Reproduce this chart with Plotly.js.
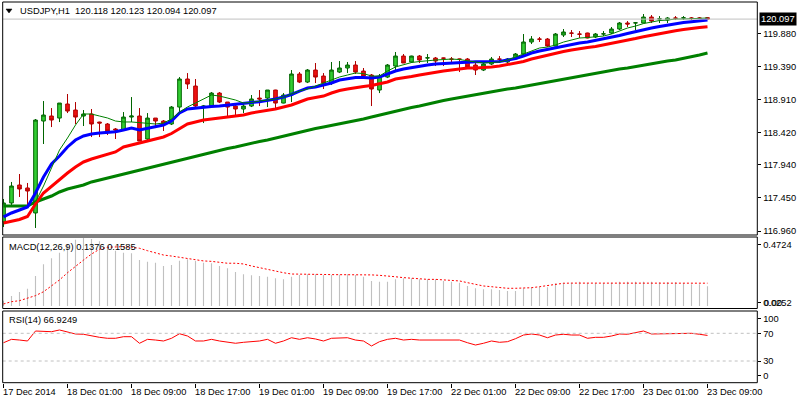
<!DOCTYPE html>
<html>
<head>
<meta charset="utf-8">
<script src="https://cdn.plot.ly/plotly-3.0.1.min.js"></script>
<style>html,body{margin:0;padding:0;background:#fff;}#chart{width:800px;height:400px;}</style>
</head>
<body>
<div id="chart"></div>
<script>
// ---- DATA ----
const symbol = 'USDJPY,H1';
const tickLabels = ['17 Dec 2014','18 Dec 01:00','18 Dec 09:00','18 Dec 17:00','19 Dec 01:00','19 Dec 09:00','19 Dec 17:00','22 Dec 01:00','22 Dec 09:00','22 Dec 17:00','23 Dec 01:00','23 Dec 09:00'];
const tickBars = [0,8,16,24,32,40,48,56,64,72,80,88];

const open = [117.094,117.375,117.641,117.597,117.227,118.588,118.662,118.632,118.840,118.751,
118.662,118.692,118.573,118.544,118.470,118.455,118.647,118.662,118.322,118.632,
118.588,118.544,118.795,119.210,119.106,118.795,118.810,119.002,118.869,118.810,
118.766,118.810,118.928,118.928,119.047,118.854,118.973,119.284,119.165,119.343,
119.254,119.150,119.313,119.373,119.417,119.328,119.269,119.047,119.239,119.402,
119.550,119.462,119.550,119.521,119.521,119.521,119.506,119.506,119.506,119.417,
119.343,119.432,119.506,119.462,119.506,119.580,119.758,119.802,119.802,119.698,
119.861,119.891,119.876,119.891,119.832,119.876,119.891,119.950,120.039,120.039,
120.039,120.127,120.098,120.083,120.113,120.113,120.113,120.113,120.118];
const high = [117.434,117.686,117.804,117.671,118.618,118.884,118.780,118.854,118.988,118.869,
118.751,118.766,118.578,118.558,118.484,118.721,118.943,118.780,118.706,118.632,
118.603,118.810,119.239,119.298,119.210,118.825,119.017,119.017,118.869,118.825,
118.854,118.973,119.047,119.047,119.050,119.002,119.343,119.313,119.358,119.447,
119.298,119.462,119.476,119.462,119.476,119.373,119.284,119.284,119.432,119.610,
119.580,119.555,119.565,119.580,119.536,119.525,119.536,119.510,119.521,119.462,
119.462,119.536,119.550,119.521,119.595,119.876,119.846,119.832,119.817,119.891,
119.950,119.935,119.920,119.895,119.891,119.920,119.980,120.054,120.068,120.054,
120.172,120.157,120.142,120.127,120.142,120.142,120.127,120.127,120.123];
const low = [117.020,117.315,117.464,117.330,117.005,118.248,118.499,118.573,118.706,118.544,
118.514,118.351,118.351,118.381,118.322,118.440,118.573,118.292,118.277,118.484,
118.440,118.529,118.706,119.062,118.795,118.558,118.795,118.854,118.662,118.662,
118.706,118.795,118.810,118.795,118.780,118.850,118.869,119.150,119.150,119.150,
119.062,119.121,119.298,119.298,119.284,119.224,118.810,119.002,119.224,119.343,
119.447,119.447,119.447,119.447,119.402,119.402,119.432,119.313,119.373,119.269,
119.328,119.417,119.447,119.447,119.491,119.565,119.728,119.758,119.684,119.695,
119.832,119.832,119.817,119.812,119.817,119.846,119.876,119.935,119.980,119.935,
120.035,120.039,120.039,120.039,120.083,120.083,120.083,120.098,120.094];
const close = [117.375,117.626,117.582,117.552,118.603,118.677,118.603,118.854,118.736,118.647,
118.692,118.544,118.558,118.440,118.455,118.647,118.662,118.292,118.632,118.588,
118.544,118.795,119.210,119.136,118.810,118.810,119.002,118.869,118.795,118.766,
118.810,118.914,118.914,119.047,118.854,118.973,119.284,119.165,119.343,119.239,
119.150,119.343,119.373,119.417,119.313,119.254,119.062,119.254,119.417,119.550,
119.447,119.550,119.491,119.524,119.476,119.518,119.503,119.503,119.387,119.343,
119.432,119.506,119.503,119.506,119.580,119.758,119.802,119.799,119.698,119.876,
119.906,119.888,119.873,119.817,119.876,119.879,119.950,120.039,120.024,120.042,
120.127,120.068,120.101,120.113,120.110,120.116,120.110,120.110,120.097];

const maFast = [null,null,null,null,117.390,117.626,117.893,118.159,118.337,118.529,
118.692,118.692,118.662,118.633,118.588,118.574,118.574,118.566,118.559,118.544,
118.559,118.618,118.722,118.796,118.855,118.914,118.973,118.958,118.929,118.899,
118.855,118.862,118.884,118.899,118.914,118.944,118.988,119.032,119.062,119.106,
119.151,119.195,119.240,119.269,119.299,119.291,119.254,119.254,119.328,119.388,
119.425,119.454,119.469,119.484,119.491,119.498,119.506,119.498,119.476,119.462,
119.447,119.454,119.462,119.491,119.536,119.580,119.624,119.669,119.683,119.713,
119.757,119.787,119.817,119.824,119.831,119.846,119.876,119.920,119.965,119.994,
120.031,120.053,120.076,120.083,120.098,120.098,120.105,120.105,120.113];
const maBlue = [117.168,117.227,117.271,117.316,117.523,117.760,117.952,118.070,118.204,118.307,
118.366,118.396,118.411,118.418,118.430,118.455,118.485,118.455,118.477,118.500,
118.529,118.588,118.707,118.766,118.781,118.788,118.803,118.810,118.825,118.840,
118.855,118.862,118.874,118.892,118.914,118.944,118.981,119.032,119.077,119.092,
119.121,119.151,119.195,119.210,119.232,119.232,119.225,119.240,119.284,119.328,
119.358,119.380,119.395,119.417,119.432,119.439,119.451,119.462,119.466,119.466,
119.466,119.469,119.469,119.491,119.513,119.550,119.595,119.624,119.647,119.676,
119.698,119.720,119.743,119.757,119.780,119.802,119.824,119.854,119.883,119.913,
119.942,119.965,119.987,120.009,120.031,120.046,120.058,120.068,120.083];
const maRed = [117.079,117.108,117.131,117.175,117.360,117.523,117.626,117.715,117.819,117.908,
117.982,118.026,118.063,118.100,118.130,118.204,118.233,118.263,118.285,118.322,
118.352,118.403,118.470,118.544,118.574,118.603,118.618,118.633,118.648,118.662,
118.677,118.707,118.726,118.744,118.766,118.796,118.825,118.870,118.914,118.936,
118.958,119.003,119.040,119.062,119.084,119.099,119.114,119.136,119.166,119.210,
119.225,119.247,119.269,119.291,119.314,119.328,119.343,119.358,119.373,119.373,
119.377,119.388,119.402,119.425,119.447,119.469,119.506,119.536,119.565,119.587,
119.617,119.639,119.661,119.676,119.691,119.713,119.738,119.757,119.787,119.809,
119.836,119.861,119.886,119.905,119.925,119.942,119.960,119.972,119.984];
const maSlow = [117.330,117.330,117.330,117.330,117.390,117.434,117.478,117.538,117.582,117.612,
117.641,117.686,117.715,117.745,117.774,117.804,117.834,117.863,117.893,117.922,
117.945,117.982,118.011,118.041,118.070,118.100,118.130,118.159,118.181,118.204,
118.233,118.263,118.285,118.307,118.337,118.366,118.396,118.426,118.455,118.477,
118.500,118.522,118.544,118.574,118.596,118.618,118.648,118.677,118.707,118.736,
118.766,118.788,118.810,118.840,118.862,118.892,118.914,118.936,118.958,118.981,
119.003,119.018,119.040,119.062,119.077,119.099,119.121,119.143,119.166,119.188,
119.210,119.232,119.254,119.269,119.291,119.314,119.336,119.358,119.373,119.395,
119.417,119.439,119.462,119.476,119.491,119.513,119.536,119.565,119.595];

const macdMain = [0.037,0.069,0.097,0.120,0.208,0.290,0.331,0.370,0.430,0.460,
0.4724,0.465,0.450,0.420,0.384,0.370,0.366,0.319,0.308,0.301,
0.278,0.285,0.315,0.324,0.313,0.301,0.297,0.278,0.262,0.236,
0.220,0.213,0.208,0.203,0.192,0.185,0.203,0.215,0.220,0.220,
0.215,0.215,0.217,0.220,0.215,0.203,0.174,0.169,0.169,0.185,
0.192,0.192,0.185,0.185,0.185,0.174,0.169,0.162,0.139,0.123,
0.116,0.116,0.111,0.104,0.104,0.123,0.130,0.134,0.130,0.158,
0.162,0.162,0.169,0.158,0.158,0.158,0.162,0.169,0.169,0.169,
0.169,0.169,0.165,0.165,0.165,0.158,0.151,0.151,0.1376];
const macdSignal = [0.014,0.030,0.037,0.053,0.072,0.099,0.139,0.181,0.231,0.278,
0.319,0.361,0.394,0.408,0.412,0.412,0.408,0.401,0.384,0.370,
0.354,0.347,0.338,0.326,0.319,0.313,0.310,0.303,0.297,0.297,
0.292,0.278,0.266,0.250,0.238,0.231,0.222,0.220,0.219,0.219,
0.219,0.218,0.218,0.219,0.219,0.218,0.216,0.213,0.210,0.203,
0.197,0.192,0.188,0.185,0.185,0.181,0.176,0.174,0.162,0.151,
0.139,0.134,0.127,0.123,0.123,0.123,0.127,0.134,0.141,0.151,
0.158,0.159,0.159,0.159,0.159,0.159,0.159,0.159,0.159,0.159,
0.159,0.159,0.159,0.159,0.159,0.159,0.159,0.159,0.1585];
const rsi = [56.4,61.3,60.3,58.9,73.3,73.3,72.3,74.8,72.3,69.0,
68.6,66.1,64.2,62.8,62.8,65.1,65.1,55.6,61.3,60.3,
58.9,62.8,69.4,66.1,58.9,58.9,61.3,58.9,57.0,55.6,
57.0,57.9,58.9,61.3,55.6,58.9,63.6,61.3,63.6,61.8,
58.9,62.8,62.8,63.6,60.3,58.9,51.7,57.9,61.3,62.8,
60.3,61.3,60.3,60.3,60.3,60.3,60.3,60.3,56.4,53.1,
55.6,58.9,57.0,57.9,62.2,67.5,69.0,67.5,63.6,67.5,
68.6,67.5,67.5,62.8,64.2,64.2,66.1,69.0,68.6,70.9,
73.3,69.0,69.0,70.0,69.0,70.0,70.0,68.6,66.9249];

const priceTicks = [119.880,119.390,118.910,118.420,117.940,117.450,116.960];
const macdLabels = ['0.4724','0.0252'];
const macdLabelVals = [0.424,0.023];
const rsiLabels = ['100','70','30','0'];
const rsiLabelVals = [91.7,70,30,8.8];
const rsiLevels = [70,30];

// ---- CHART ----
const idx = close.map((_, i) => i);
const n = close.length;
const F = 'Liberation Sans, Arial, sans-serif';
const FS = 9.3;

const traces = [
  {type:'bar', x: idx, y: macdMain, xaxis:'x', yaxis:'y2', width:0.14,
   marker:{color:'#c0c0c0', line:{width:0}}, hoverinfo:'skip'},
  {type:'scatter', mode:'lines', x: idx, y: macdSignal, xaxis:'x', yaxis:'y2',
   line:{color:'#ff0000', width:1, dash:'2px,2px'}, hoverinfo:'skip'},
  {type:'scatter', mode:'lines', x: idx, y: rsi, xaxis:'x', yaxis:'y3',
   line:{color:'#ff0000', width:1}, hoverinfo:'skip'},
  {type:'candlestick', x: idx, open: open, high: high, low: low, close: close,
   xaxis:'x', yaxis:'y', whiskerwidth:0,
   increasing:{line:{color:'#006400', width:1}, fillcolor:'#32cd32'},
   decreasing:{line:{color:'#b00000', width:1}, fillcolor:'#ee1111'},
   hoverinfo:'skip'},
  {type:'scatter', mode:'lines', x: idx, y: maSlow, xaxis:'x', yaxis:'y',
   line:{color:'#008000', width:3}, hoverinfo:'skip'},
  {type:'scatter', mode:'lines', x: idx, y: maRed, xaxis:'x', yaxis:'y',
   line:{color:'#ff0000', width:3}, hoverinfo:'skip'},
  {type:'scatter', mode:'lines', x: idx, y: maBlue, xaxis:'x', yaxis:'y',
   line:{color:'#0000ff', width:3}, hoverinfo:'skip'},
  {type:'scatter', mode:'lines', x: idx, y: maFast, xaxis:'x', yaxis:'y',
   line:{color:'#008000', width:1}, hoverinfo:'skip'}
];

const xL = 2.7/800, xR = 757.3/800;
const paneMain = [1-235/400, 1-2/400];
const paneMacd = [1-308.5/400, 1-237/400];
const paneRsi = [1-382.7/400, 1-311/400];

const yCommon = {side:'right', anchor:'x', showgrid:false, zeroline:false, showline:false,
  ticks:'outside', ticklen:3, tickwidth:1, tickcolor:'#000', fixedrange:true,
  tickfont:{family:F, size:FS, color:'#000'}};

const lastClose = close[n-1];
const shapes = [
  {type:'line', xref:'paper', yref:'y', x0:xL, x1:xR, y0:lastClose, y1:lastClose, line:{color:'#c0c0c0', width:1}},
  ...rsiLevels.map(v => ({type:'line', xref:'paper', yref:'y3', x0:xL, x1:xR, y0:v, y1:v, line:{color:'#c0c0c0', width:1, dash:'3px,3px'}})),
  ...[paneMain, paneMacd, paneRsi].map(d => ({type:'rect', xref:'paper', yref:'paper', x0:xL, x1:xR, y0:d[0], y1:d[1], line:{color:'#000', width:1}, fillcolor:'rgba(0,0,0,0)'})),
  {type:'path', xref:'paper', yref:'paper', path:'M 0.0075 0.9775 L 0.015 0.9775 L 0.01125 0.9675 Z', fillcolor:'#000', line:{color:'#000', width:0.5}}
];

const annotations = [
  {xref:'paper', yref:'paper', x:18/800, y:1-11/400, xanchor:'left', yanchor:'middle', showarrow:false,
   text: symbol + '\u00a0\u00a0' + [open[n-1], high[n-1], low[n-1], close[n-1]].map(v => v.toFixed(3)).join(' '),
   font:{family:F, size:FS, color:'#000'}},
  {xref:'paper', yref:'paper', x:7/800, y:1-246.5/400, xanchor:'left', yanchor:'middle', showarrow:false,
   text:'MACD(12,26,9) ' + macdMain[n-1].toFixed(4) + ' ' + macdSignal[n-1].toFixed(4),
   font:{family:F, size:FS, color:'#000'}},
  {xref:'paper', yref:'paper', x:7/800, y:1-320/400, xanchor:'left', yanchor:'middle', showarrow:false,
   text:'RSI(14) ' + rsi[n-1].toFixed(4),
   font:{family:F, size:FS, color:'#000'}},
  {xref:'paper', yref:'y', x:759/800, y:lastClose, xanchor:'left', yanchor:'middle', showarrow:false,
   text: lastClose.toFixed(3), bgcolor:'#000', borderpad:1,
   font:{family:F, size:FS, color:'#fff'}},
  {xref:'paper', yref:'y2', x:761.5/800, y:macdLabelVals[1], xanchor:'left', yanchor:'middle', showarrow:false,
   text:'0.00', font:{family:F, size:FS, color:'#000'}},
  ...tickBars.map((b, i) => ({xref:'x', yref:'paper', x:b, y:1-391.5/400, xanchor:'left', yanchor:'middle',
   xshift:-3, showarrow:false, text:tickLabels[i], font:{family:F, size:FS, color:'#000'}}))
];

const layout = {
  width:800, height:400,
  margin:{l:0, r:0, t:0, b:0},
  paper_bgcolor:'#fff', plot_bgcolor:'#fff',
  showlegend:false,
  boxgap:0.35,
  font:{family:F, size:FS, color:'#000'},
  xaxis:{domain:[xL, xR], range:[-0.1, 94.225], anchor:'y3', showgrid:false, zeroline:false, showline:false,
    tickmode:'array', tickvals:tickBars, ticks:'outside', ticklen:4, tickcolor:'#000',
    showticklabels:false, rangeslider:{visible:false}, fixedrange:true},
  yaxis:Object.assign({}, yCommon, {domain:paneMain, range:[116.901, 120.350],
    tickmode:'array', tickvals:priceTicks, ticktext:priceTicks.map(v => v.toFixed(3))}),
  yaxis2:Object.assign({}, yCommon, {domain:paneMacd, range:[-0.01736, 0.4792],
    tickmode:'array', tickvals:macdLabelVals, ticktext:macdLabels}),
  yaxis3:Object.assign({}, yCommon, {domain:paneRsi, range:[-1.33, 102.2],
    tickmode:'array', tickvals:rsiLabelVals, ticktext:rsiLabels}),
  shapes: shapes,
  annotations: annotations
};

Plotly.newPlot('chart', traces, layout, {staticPlot:true, displayModeBar:false});
</script>
</body>
</html>
